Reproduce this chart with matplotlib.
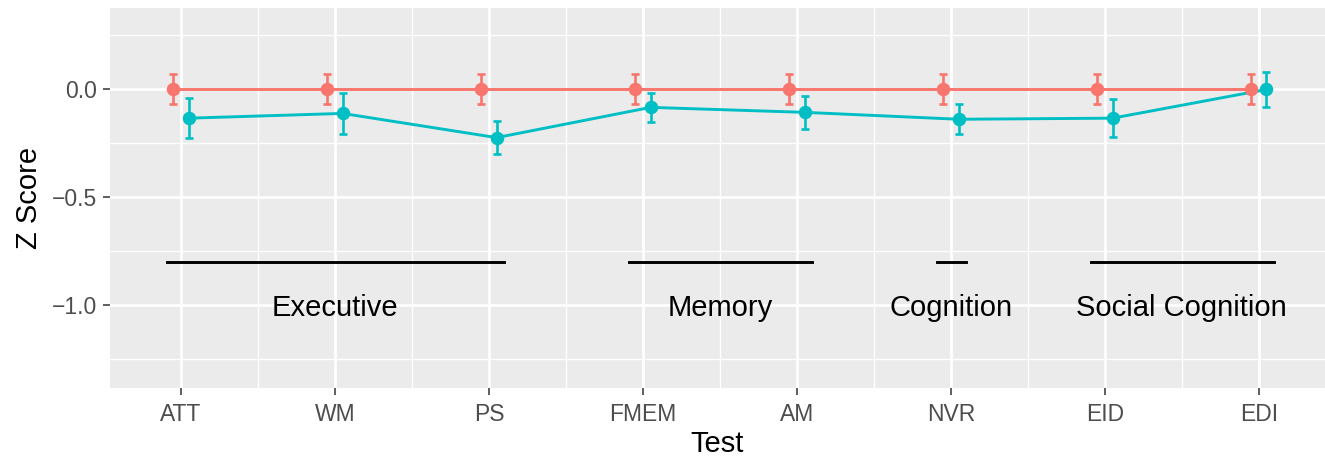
import numpy as np
import matplotlib
matplotlib.use("Agg")
import matplotlib.pyplot as plt

plt.rcParams['font.family'] = ['Liberation Sans', 'DejaVu Sans']

# data
tests = ["ATT", "WM", "PS", "FMEM", "AM", "NVR", "EID", "EDI"]
ref_mean = [0.0, 0.0, 0.0, 0.0, 0.0, 0.0, 0.0, 0.0]
ref_err = [0.07, 0.07, 0.07, 0.07, 0.07, 0.07, 0.07, 0.07]
grp_mean = [-0.135, -0.113, -0.225, -0.085, -0.108, -0.140, -0.135, -0.002]
grp_err = [0.092, 0.093, 0.077, 0.068, 0.076, 0.070, 0.089, 0.080]

domains = ["Executive", "Memory", "Cognition", "Social Cognition"]
domain_start = [1, 4, 6, 7]
domain_end = [3, 5, 6, 8]

red = "#F8766D"
teal = "#00BFC4"

x = np.arange(1, len(tests) + 1)
dodge = 0.05

fig = plt.figure(figsize=(13.25, 4.57), dpi=100)
ax = fig.add_axes([110 / 1325, 69 / 457, 1 - 110 / 1325, 380 / 457])
ax.set_facecolor("#EBEBEB")
for s in ax.spines.values():
    s.set_visible(False)

# grid
ax.set_xticks(x)
ax.set_xticks(np.arange(1.5, 8, 1), minor=True)
ax.set_yticks([0.0, -0.5, -1.0])
ax.set_yticks([0.25, -0.25, -0.75, -1.25], minor=True)
ax.grid(which="major", color="white", lw=2.0)
ax.grid(which="minor", color="white", lw=1.0)
ax.set_axisbelow(True)

for xs, m, e, c in [(x - dodge, ref_mean, ref_err, red), (x + dodge, grp_mean, grp_err, teal)]:
    ax.errorbar(xs, m, yerr=e, fmt="none", ecolor=c, elinewidth=1.9, capsize=3.2, capthick=1.9, zorder=3)
    ax.plot(xs, m, color=c, lw=2.1, zorder=3)
    ax.plot(xs, m, "o", color=c, ms=8.7, zorder=4)

for name, a, b in zip(domains, domain_start, domain_end):
    ax.plot([a - 0.09, b + 0.1], [-0.8, -0.8], color="black", lw=2.1, zorder=3)
    ax.text((a + b) / 2, -1.0, name, ha="center", va="center_baseline", fontsize=21, color="black")

ax.set_xlim(0.539, 8.43)
ax.set_ylim(-1.384, 0.375)
ax.set_yticklabels(["0.0", "\u22120.5", "\u22121.0"])
ax.set_xticklabels(tests)
ax.tick_params(which="major", length=5, width=1.1, color="#333333", labelcolor="#4D4D4D",
               labelsize=16.5, pad=4)
ax.tick_params(axis="x", which="major", pad=5.5)
ax.tick_params(which="minor", length=0)
ax.set_xlabel("Test", fontsize=21, labelpad=3)
ax.set_ylabel("Z Score", fontsize=21, labelpad=7)

fig.savefig("out.png", dpi=100)
